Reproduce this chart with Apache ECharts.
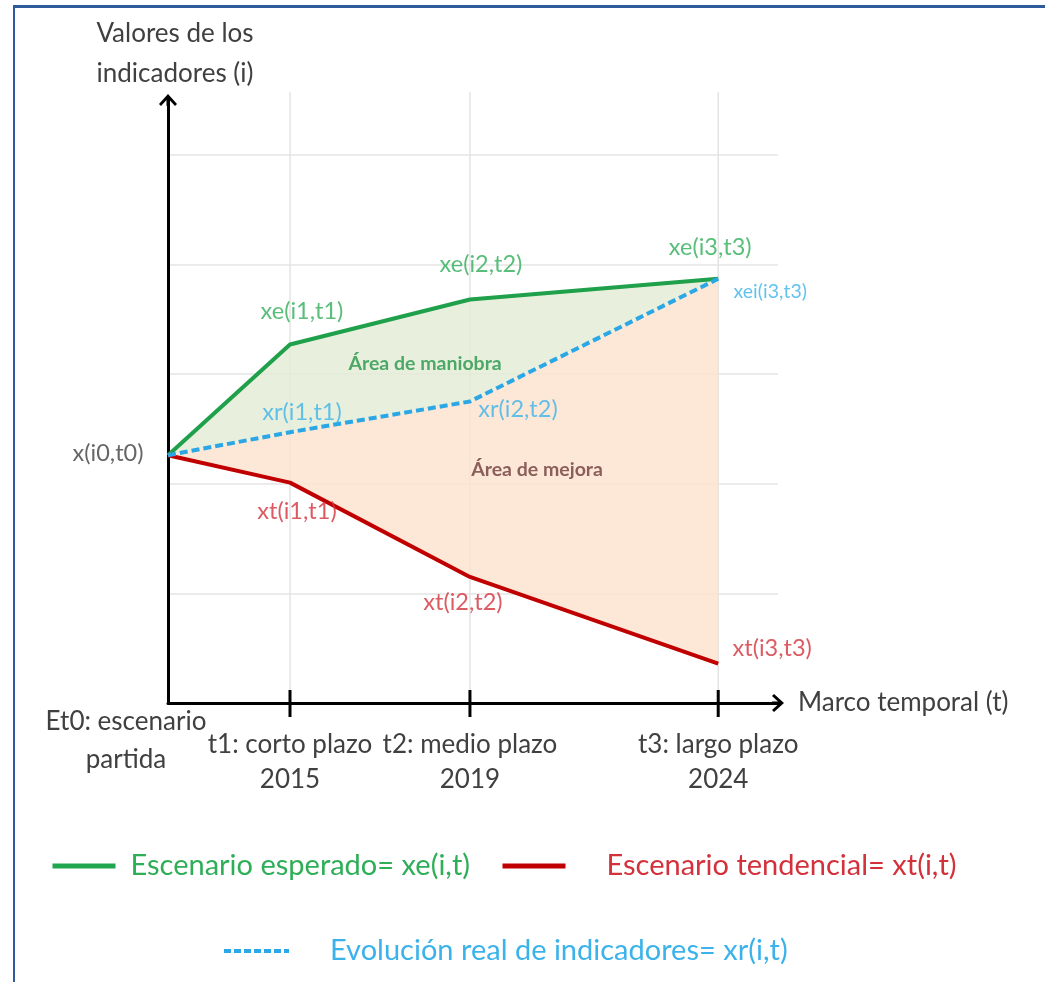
<!DOCTYPE html>
<html>
<head>
<meta charset="utf-8">
<script src="https://cdn.jsdelivr.net/npm/echarts@6/dist/echarts.min.js"></script>
<style>
  html, body { margin: 0; padding: 0; background: #ffffff; }
  #chart { position: absolute; left: 0; top: 0; width: 1045px; height: 982px; }
  #frame { position: absolute; left: 13px; top: 5px; width: 1040px; height: 990px;
           border-left: 2px solid #2f5b9c; border-top: 3px solid #2f5b9c;
           box-sizing: border-box; pointer-events: none; }
</style>
</head>
<body>
<div id="chart"></div>
<div id="frame"></div>
<script>
// Planning horizons along the time axis (t0 .. t3)
const horizons = [0, 1, 2.475, 4.51];
const horizonLabels = ['Et0: escenario\npartida', 't1: corto plazo\n2015', 't2: medio plazo\n2019', 't3: largo plazo\n2024'];

// Indicator values for each scenario at t0 .. t3
const expected = [2.26, 3.27, 3.68, 3.87];   // xe(i,t)
const real     = [2.26, 2.47, 2.75, 3.87];   // xr(i,t)
const trend    = [2.26, 2.01, 1.15, 0.36];   // xt(i,t)

// Point tags
const expectedTags = ['', 'xe(i1,t1)', 'xe(i2,t2)', 'xe(i3,t3)'];
const realTags     = ['', 'xr(i1,t1)', 'xr(i2,t2)', 'xei(i3,t3)'];
const trendTags    = ['x(i0,t0)', 'xt(i1,t1)', 'xt(i2,t2)', 'xt(i3,t3)'];

// Region names and their anchor points (time, value)
const regionNames   = ['Área de maniobra', 'Área de mejora'];
const regionAnchors = [[2.107, 3.093], [3.025, 2.126]];

const seriesNames = ['Escenario esperado= xe(i,t)', 'Escenario tendencial= xt(i,t)', 'Evolución real de indicadores= xr(i,t)'];

// ---- styling ----
const FONT = 'Lato, "Open Sans", sans-serif';
const C = {
  green: '#1fa04a', greenText: '#2fae58',
  red: '#c00000', redText: '#d3313b',
  blue: '#2aa7e4', blueText: '#3bb3ea',
  axis: '#000000', text: '#404040',
  fillManeuver: 'rgba(228,235,214,0.82)', fillImprove: 'rgba(252,227,206,0.82)',
  grid: '#e4e4e4'
};
const Y_MAX = 5.5;
const AXIS_FONT = 26;
const TAG_FONT = 23.5;
const LEGEND_FONT = 29;

// label offsets (px) for each point tag, relative to the point
const expectedOffsets = [[0, 0], [12, -33], [11, -35], [-8, -31]];
const realOffsets     = [[0, 0], [12, -20], [48, 8], [52, 13]];
const trendOffsets    = [[-60, -2], [7, 29], [-7, 26], [54, -15]];

function tagItems(values, tags, offsets, color, sizes) {
  const out = [];
  values.forEach((v, i) => {
    if (!tags[i]) return;
    out.push({
      value: [horizons[i], v],
      label: {
        formatter: tags[i], color: i === 0 && tags === trendTags ? C.text : color,
        offset: offsets[i], fontSize: sizes ? sizes[i] : TAG_FONT
      }
    });
  });
  return out;
}

const tagData = []
  .concat(tagItems(expected, expectedTags, expectedOffsets, C.greenText))
  .concat(tagItems(real, realTags, realOffsets, C.blueText, [TAG_FONT, TAG_FONT, TAG_FONT, 19.5]))
  .concat(tagItems(trend, trendTags, trendOffsets, C.redText));

const regionData = regionNames.map((n, i) => ({
  value: regionAnchors[i],
  label: { formatter: n, color: i === 0 ? '#23964a' : '#6e3b3b', fontWeight: 'bold', fontSize: 19.5 }
}));

const arrowPath = 'path://M9 0 L18 10 L16 12 L10.5 6 L10.5 12 L7.5 12 L7.5 6 L2 12 L0 10 Z';

function legendBlock(name, color, left, top, gap, lineStyle, width) {
  return {
    data: [{ name, textStyle: { color } }], left, top, padding: 0,
    itemWidth: width, itemHeight: 1, selectedMode: false,
    lineStyle,
    textStyle: { fontSize: LEGEND_FONT, fontFamily: FONT, lineHeight: 34, padding: [0, 0, 0, gap] }
  };
}

const chart = echarts.init(document.getElementById('chart'), null, { renderer: 'canvas' });

const option = {
  backgroundColor: '#ffffff',
  animation: false,
  textStyle: { fontFamily: FONT },
  grid: { left: 168, top: 100, width: 610, height: 603, outerBoundsMode: 'none', containLabel: false },
  xAxis: {
    type: 'value', min: 0, max: 5,
    name: 'Marco temporal (t)', nameLocation: 'end', nameGap: 20,
    nameTextStyle: { color: C.text, fontSize: AXIS_FONT, fontFamily: FONT, verticalAlign: 'middle', align: 'left' },
    axisLine: { show: true, onZero: false, symbol: ['none', arrowPath], symbolSize: [18, 12],
                lineStyle: { color: C.axis, width: 3 } },
    axisTick: { show: false }, axisLabel: { show: false }, splitLine: { show: false }
  },
  yAxis: {
    type: 'value', min: 0, max: Y_MAX, interval: 1,
    name: 'Valores de los\nindicadores (i)', nameLocation: 'end', nameGap: 6,
    nameTextStyle: { color: C.text, fontSize: AXIS_FONT, fontFamily: FONT, lineHeight: 40,
                     align: 'center', verticalAlign: 'bottom', padding: [0, 0, 0, 14] },
    axisLine: { show: true, onZero: false, symbol: ['none', arrowPath], symbolSize: [18, 12],
                lineStyle: { color: C.axis, width: 3 } },
    axisTick: { show: false }, axisLabel: { show: false },
    splitLine: { show: true, showMinLine: false, showMaxLine: false, lineStyle: { color: C.grid, width: 1.5 } }
  },
  legend: [
    legendBlock(seriesNames[0], C.greenText, 50, 849, 10, { color: '#1fa64e', width: 5 }, 63),
    legendBlock(seriesNames[1], C.redText, 500, 849, 36, { color: '#c00000', width: 5 }, 63),
    legendBlock(seriesNames[2], C.blueText, 222, 934, 36, { color: C.blue, width: 4, type: [7, 3] }, 65)
  ],
  series: [
    {
      // filled regions between the scenarios
      type: 'custom', name: 'areas', silent: true, z: 1,
      data: [[0], [1]],
      renderItem(params, api) {
        const k = params.dataIndex;
        const upper = k === 0 ? expected : real;
        const lower = k === 0 ? real : trend;
        const pts = [];
        horizons.forEach((h, i) => pts.push(api.coord([h, upper[i]])));
        for (let i = horizons.length - 1; i >= 0; i--) pts.push(api.coord([horizons[i], lower[i]]));
        return { type: 'polygon', shape: { points: pts },
                 style: { fill: k === 0 ? C.fillManeuver : C.fillImprove } };
      }
    },
    {
      // horizon grid lines, tick marks and labels
      type: 'custom', name: 'horizontes', silent: true, z: 0,
      data: horizons.map(h => [h]),
      renderItem(params, api) {
        const i = params.dataIndex;
        const h = horizons[i];
        const base = api.coord([h, 0]);
        const top = api.coord([h, Y_MAX]);
        const children = [];
        if (i > 0) {
          children.push({ type: 'line', shape: { x1: base[0], y1: top[1] - 8, x2: base[0], y2: base[1] },
                          style: { stroke: C.grid, lineWidth: 1.5 }, z2: 0 });
          children.push({ type: 'line', shape: { x1: base[0], y1: base[1] - 13, x2: base[0], y2: base[1] + 14 },
                          style: { stroke: C.axis, lineWidth: 3 }, z2: 10 });
        }
        const first = i === 0;
        children.push({
          type: 'text', z2: 10,
          style: {
            text: horizonLabels[i], x: base[0] + (first ? -42 : 0), y: base[1] + (first ? 38 : 59),
            fill: C.text, fontSize: AXIS_FONT, fontFamily: FONT, align: 'center', verticalAlign: 'middle',
            lineHeight: first ? 38 : 35
          }
        });
        return { type: 'group', children };
      }
    },
    {
      name: seriesNames[0], type: 'line', z: 3,
      data: horizons.map((h, i) => [h, expected[i]]),
      showSymbol: false, symbol: 'none', lineStyle: { color: C.green, width: 4 }, itemStyle: { color: C.green }
    },
    {
      name: seriesNames[1], type: 'line', z: 3,
      data: horizons.map((h, i) => [h, trend[i]]),
      showSymbol: false, symbol: 'none', lineStyle: { color: C.red, width: 4 }, itemStyle: { color: C.red }
    },
    {
      name: seriesNames[2], type: 'line', z: 4,
      data: horizons.map((h, i) => [h, real[i]]),
      showSymbol: false, symbol: 'none',
      lineStyle: { color: C.blue, width: 4, type: [8, 4] }, itemStyle: { color: C.blue }
    },
    {
      // point tags
      type: 'scatter', name: 'etiquetas', silent: true, z: 5, symbolSize: 0,
      label: { show: true, position: 'inside', fontFamily: FONT },
      data: tagData
    },
    {
      // region names
      type: 'scatter', name: 'regiones', silent: true, z: 5, symbolSize: 0,
      label: { show: true, position: 'inside', fontFamily: FONT },
      data: regionData
    }
  ]
};

chart.setOption(option);
</script>
</body>
</html>
